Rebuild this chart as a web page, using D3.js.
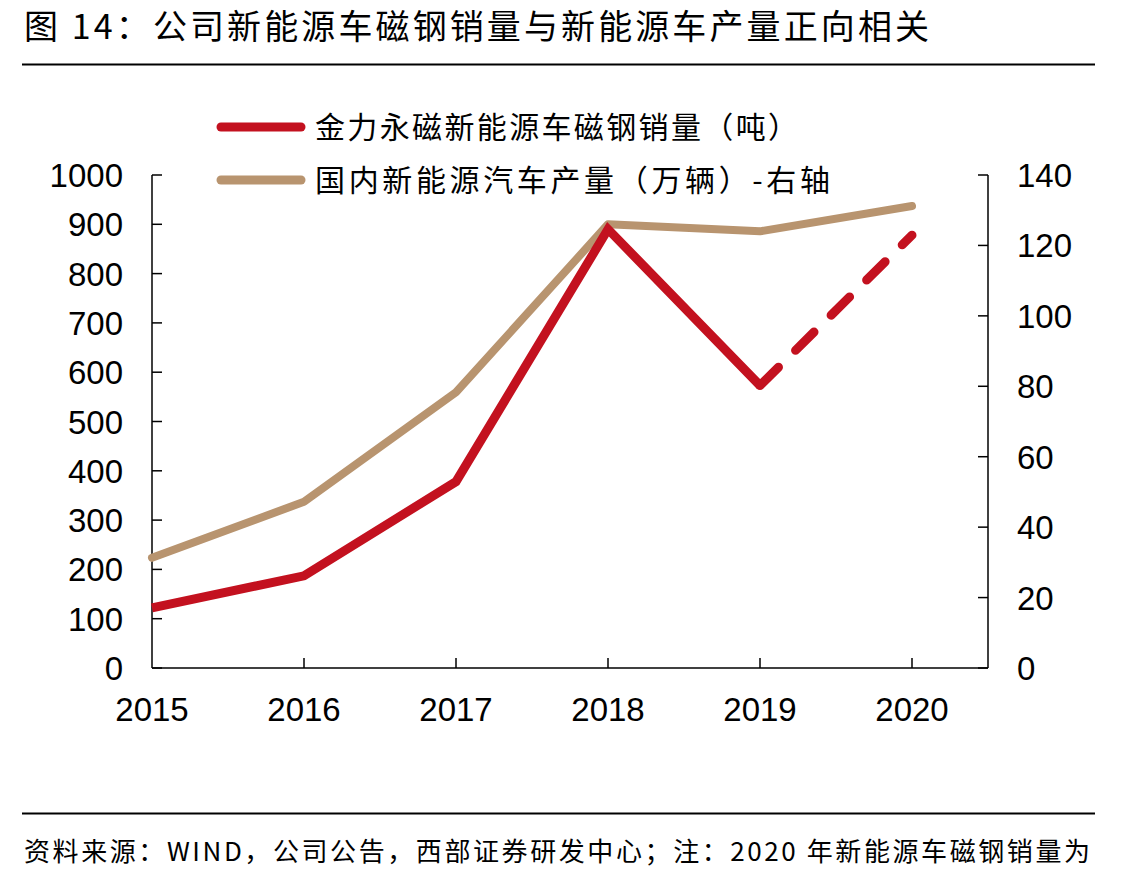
<!DOCTYPE html>
<html>
<head>
<meta charset="utf-8">
<script src="https://cdn.jsdelivr.net/npm/d3@7"></script>
<style>
  body { margin: 0; background: #fff; }
  text { fill: #000; }
</style>
</head>
<body>
<svg id="chart" width="1144" height="879"></svg>
<script>
const years = [2015, 2016, 2017, 2018, 2019, 2020]
const magnetSales = [122, 187, 378, 890, 573, 878]   // 吨, left axis
const nevOutput = [31.3, 47.2, 78.3, 126, 124, 131.2] // 万辆, right axis
const leftTicks = [0, 100, 200, 300, 400, 500, 600, 700, 800, 900, 1000]
const rightTicks = [0, 20, 40, 60, 80, 100, 120, 140]
const legendLabels = ['金力永磁新能源车磁钢销量（吨）', '国内新能源汽车产量（万辆）-右轴']

const RED = '#c3111f'
const TAN = '#b8946f'
const cjk = '"Noto Sans CJK SC", sans-serif'
const num = '"Liberation Sans", Arial, sans-serif'

const svg = d3.select('#chart')

// title + rules
svg.append('text')
  .attr('x', 24).attr('y', 39)
  .attr('font-family', cjk).attr('font-size', 34)
  .attr('textLength', 905).attr('lengthAdjust', 'spacing')
  .text('图 14：公司新能源车磁钢销量与新能源车产量正向相关')

svg.append('line').attr('x1', 22).attr('x2', 1095).attr('y1', 64.5).attr('y2', 64.5)
  .attr('stroke', '#000').attr('stroke-width', 2)
svg.append('line').attr('x1', 22).attr('x2', 1095).attr('y1', 813.5).attr('y2', 813.5)
  .attr('stroke', '#000').attr('stroke-width', 2)

svg.append('text')
  .attr('x', 24).attr('y', 861)
  .attr('font-family', cjk).attr('font-size', 26)
  .attr('textLength', 1066).attr('lengthAdjust', 'spacing')
  .text('资料来源：WIND，公司公告，西部证券研发中心；注：2020 年新能源车磁钢销量为')

// scales
const x = d3.scaleLinear().domain([2015, 2020]).range([152, 912])
const yL = d3.scaleLinear().domain([0, 1000]).range([668, 175])
const yR = d3.scaleLinear().domain([0, 140]).range([668, 175])
const xEnd = 988

const axisG = svg.append('g').attr('stroke', '#000').attr('stroke-width', 1.5)
axisG.append('line').attr('x1', 152).attr('x2', 152).attr('y1', yL(1000)).attr('y2', yL(0))
axisG.append('line').attr('x1', xEnd).attr('x2', xEnd).attr('y1', yR(140)).attr('y2', yR(0))
axisG.append('line').attr('x1', 152).attr('x2', xEnd).attr('y1', yL(0)).attr('y2', yL(0))

// left ticks
axisG.selectAll('.lt').data(leftTicks).enter().append('line')
  .attr('x1', 152).attr('x2', 162)
  .attr('y1', d => yL(d)).attr('y2', d => yL(d))
svg.selectAll('.ll').data(leftTicks).enter().append('text')
  .attr('x', 123).attr('y', d => yL(d) + 12)
  .attr('text-anchor', 'end')
  .attr('font-family', num).attr('font-size', 33)
  .text(d => d)

// right ticks
axisG.selectAll('.rt').data(rightTicks).enter().append('line')
  .attr('x1', xEnd - 10).attr('x2', xEnd)
  .attr('y1', d => yR(d)).attr('y2', d => yR(d))
svg.selectAll('.rl').data(rightTicks).enter().append('text')
  .attr('x', 1017).attr('y', d => yR(d) + 12)
  .attr('text-anchor', 'start')
  .attr('font-family', num).attr('font-size', 33)
  .text(d => d)

// x ticks
axisG.selectAll('.xt').data(years.slice(1)).enter().append('line')
  .attr('x1', d => x(d)).attr('x2', d => x(d))
  .attr('y1', yL(0) - 10).attr('y2', yL(0))
svg.selectAll('.xl').data(years).enter().append('text')
  .attr('x', d => x(d)).attr('y', 721)
  .attr('text-anchor', 'middle')
  .attr('font-family', num).attr('font-size', 33)
  .text(d => d)

// lines
const tanLine = d3.line().x((d, i) => x(years[i])).y(d => yR(d))
svg.append('path').datum(nevOutput)
  .attr('d', tanLine)
  .attr('fill', 'none').attr('stroke', TAN).attr('stroke-width', 8)
  .attr('stroke-linecap', 'round').attr('stroke-linejoin', 'round')

const redLine = d3.line().x(d => x(d[0])).y(d => yL(d[1]))
const redPts = years.map((yr, i) => [yr, magnetSales[i]])
svg.append('path').datum(redPts.slice(0, 5))
  .attr('d', redLine)
  .attr('fill', 'none').attr('stroke', RED).attr('stroke-width', 9)
  .attr('stroke-linejoin', 'miter')
svg.append('path').datum(redPts.slice(4))
  .attr('d', redLine)
  .attr('fill', 'none').attr('stroke', RED).attr('stroke-width', 9)
  .attr('stroke-linecap', 'round')
  .attr('stroke-dasharray', '26 24')

// legend
const legend = svg.selectAll('.lg').data(legendLabels).enter().append('g')
  .attr('transform', (d, i) => `translate(221, ${127 + i * 53})`)
legend.append('line')
  .attr('x1', 0).attr('x2', 80).attr('y1', 0).attr('y2', 0)
  .attr('stroke', (d, i) => i === 0 ? RED : TAN)
  .attr('stroke-width', 9).attr('stroke-linecap', 'round')
legend.append('text')
  .attr('x', 94).attr('y', 11)
  .attr('font-family', cjk).attr('font-size', 30)
  .attr('textLength', (d, i) => i === 0 ? 483 : 515)
  .attr('lengthAdjust', 'spacing')
  .text(d => d)
</script>
</body>
</html>
